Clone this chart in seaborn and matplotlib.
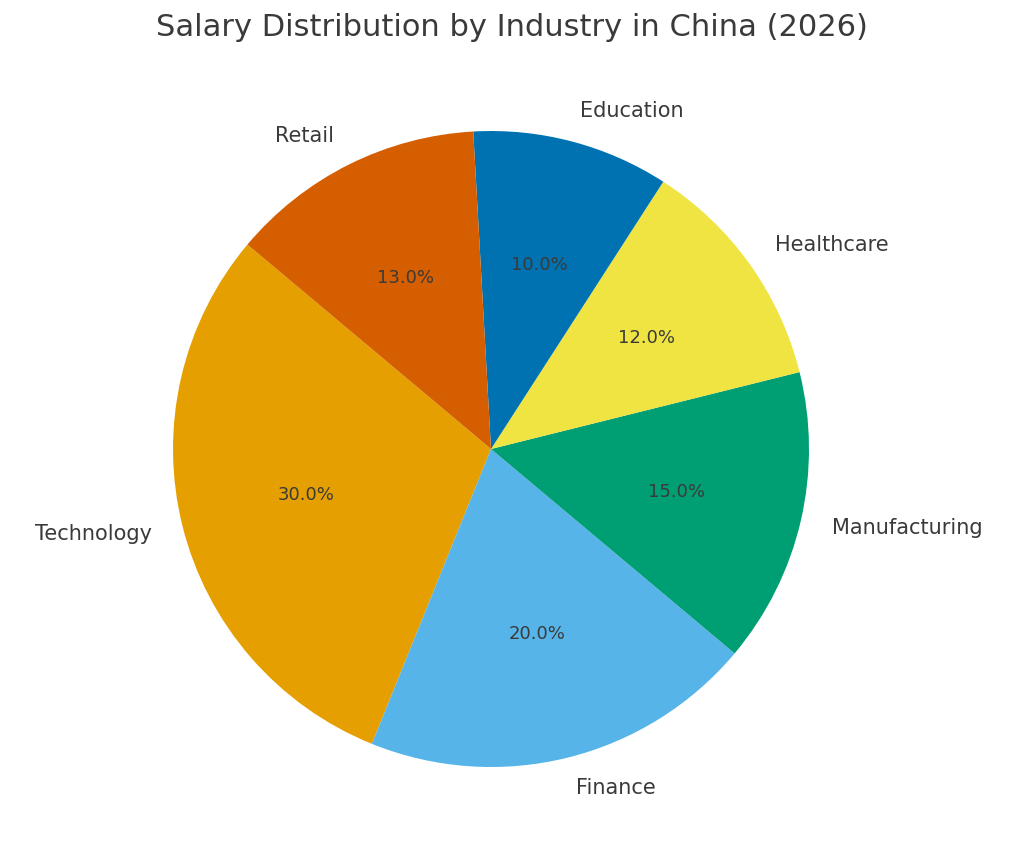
import matplotlib.pyplot as plt
import seaborn as sns

sns.set_theme(style="white")

industries = ["Technology", "Finance", "Manufacturing", "Healthcare", "Education", "Retail"]
shares = [30, 20, 15, 12, 10, 13]
colors = ["#E69F00", "#56B4E9", "#009E73", "#F0E442", "#0072B2", "#D55E00"]

fig = plt.figure(figsize=(10.24, 8.6), dpi=100)
# square axes: pie radius ~318 px centred near (491, 449)
ax = fig.add_axes([0.0913, 0.0157, 0.7764, 0.9244])
wedges, texts, autotexts = ax.pie(
    shares, labels=industries, colors=colors, autopct="%1.1f%%", startangle=140,
    textprops={"fontsize": 15, "color": "#3a3a3a"}, wedgeprops={"linewidth": 0},
)
for t in autotexts:
    t.set_fontsize(13)
fig.suptitle("Salary Distribution by Industry in China (2026)", fontsize=22,
             color="#3a3a3a", y=1 - 28 / 860, va="center")
fig.savefig("out.png")
